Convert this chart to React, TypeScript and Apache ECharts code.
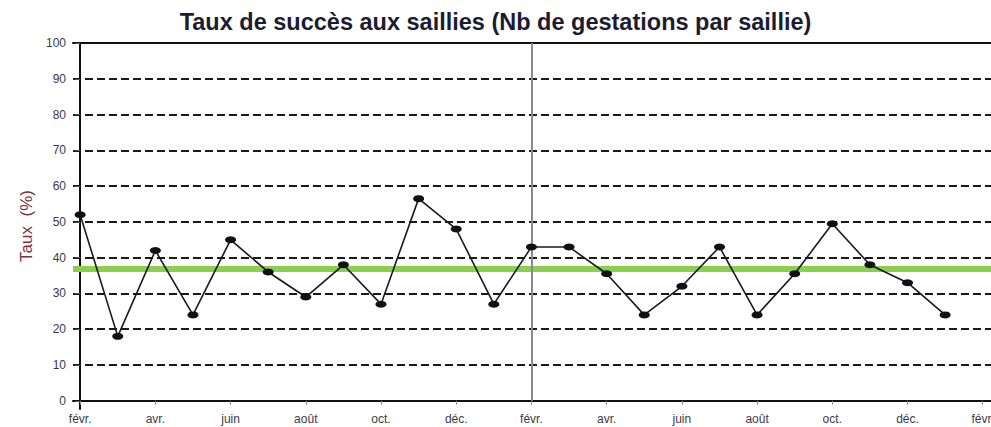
import React, { useEffect, useRef } from 'react';
import * as echarts from 'echarts';

const months = [
  'févr.', 'mars', 'avr.', 'mai', 'juin', 'juil.', 'août', 'sept.', 'oct.', 'nov.', 'déc.', 'janv.',
  'févr.', 'mars', 'avr.', 'mai', 'juin', 'juil.', 'août', 'sept.', 'oct.', 'nov.', 'déc.', 'janv.',
];
const rates = [52, 18, 42, 24, 45, 36, 29, 38, 27, 56.5, 48, 27, 43, 43, 35.5, 24, 32, 43, 24, 35.5, 49.5, 38, 33, 24];
const averageRate = 37;
const yearBoundaryIndex = 12;
const xTickLabels = ['févr.', 'avr.', 'juin', 'août', 'oct.', 'déc.', 'févr.', 'avr.', 'juin', 'août', 'oct.', 'déc.', 'févr.'];
const yTicks = [0, 10, 20, 30, 40, 50, 60, 70, 80, 90, 100];

const X_MIN = -0.19;
const X_MAX = 24.22;
const Y_MIN = -2.3;
const Y_MAX = 100;

export default function App() {
  const ref = useRef<HTMLDivElement>(null);

  useEffect(() => {
    if (!ref.current) return;
    const chart = echarts.init(ref.current, null, { renderer: 'svg' });
    const xTickValues = xTickLabels.map((_, i) => i * 2);
    const labelColor = '#3a3a4a';
    const font = 'Liberation Sans, Arial, sans-serif';
    chart.setOption({
      animation: false,
      backgroundColor: '#ffffff',
      title: {
        text: 'Taux de succès aux saillies (Nb de gestations par saillie)',
        left: 'center',
        top: 5,
        textStyle: {
          fontFamily: font,
          fontWeight: 'bold',
          fontSize: 23.5,
          color: '#1c1c30',
        },
      },
      grid: {
        left: 73,
        right: 0,
        top: 43,
        bottom: 18,
        containLabel: false,
        outerBoundsMode: 'none',
      },
      xAxis: [
        {
          type: 'value',
          min: X_MIN,
          max: X_MAX,
          position: 'bottom',
          axisLine: { show: true, lineStyle: { color: '#111', width: 2 } },
          axisTick: {
            show: true,
            customValues: xTickValues,
            length: 4,
            lineStyle: { color: '#888', width: 1 },
          },
          axisLabel: {
            customValues: xTickValues,
            formatter: (v: number) => xTickLabels[Math.round(v / 2)] ?? '',
            fontFamily: font,
            fontSize: 12,
            color: labelColor,
            margin: 4,
          },
          splitLine: { show: false },
        },
        {
          type: 'value',
          min: X_MIN,
          max: X_MAX,
          position: 'top',
          axisLine: { show: true, lineStyle: { color: '#111', width: 2 } },
          axisTick: { show: false },
          axisLabel: { show: false },
          splitLine: { show: false },
        },
      ],
      yAxis: {
        type: 'value',
        min: Y_MIN,
        max: Y_MAX,
        name: 'Taux  (%)',
        nameLocation: 'middle',
        nameGap: 38,
        nameRotate: 90,
        nameTextStyle: {
          fontFamily: font,
          fontSize: 17,
          color: '#7a2f45',
        },
        axisLine: { show: true, lineStyle: { color: '#111', width: 2 } },
        axisTick: {
          show: true,
          customValues: yTicks,
          length: 5,
          lineStyle: { color: '#555', width: 1 },
        },
        axisLabel: {
          customValues: yTicks,
          fontFamily: font,
          fontSize: 12,
          color: labelColor,
          margin: 7,
        },
        splitLine: {
          show: true,
          lineStyle: { color: '#1a1a1a', width: 2, type: [8, 4] },
        },
      },
      series: [
        {
          type: 'line',
          data: rates.map((v, i) => [i, v, months[i]]),
          symbol: 'circle',
          symbolSize: [11, 7],
          lineStyle: { color: '#1a1a1a', width: 1.6 },
          itemStyle: { color: '#111' },
          z: 5,
          markLine: {
            silent: true,
            symbol: 'none',
            label: { show: false },
            data: [
              {
                yAxis: averageRate,
                lineStyle: { color: '#8bcf4e', width: 6, type: 'solid' },
              },
              [
                { coord: [yearBoundaryIndex, 0], lineStyle: { color: '#8a8a8a', width: 2, type: 'solid' } },
                { coord: [yearBoundaryIndex, 100] },
              ],
            ],
          },
        },
      ],
    });
    return () => chart.dispose();
  }, []);

  return (
    <div
      ref={ref}
      style={{ position: 'fixed', left: 0, top: 0, width: 991, height: 427 }}
    />
  );
}
